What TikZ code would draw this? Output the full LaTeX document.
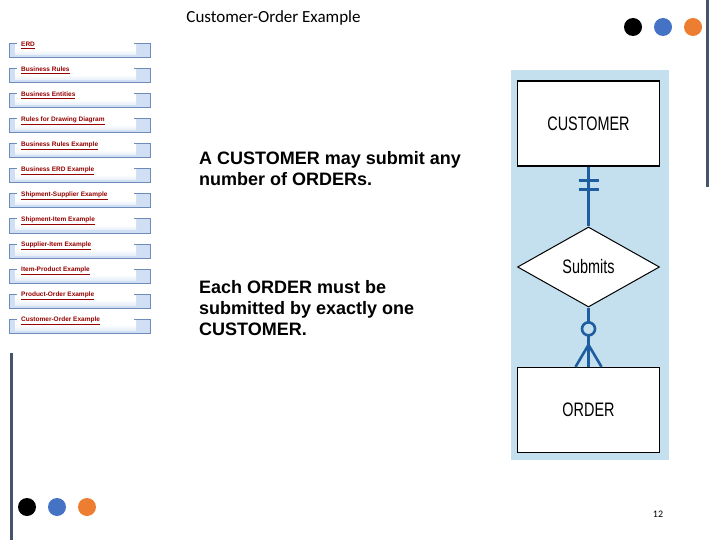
\documentclass[tikz,border=0pt]{standalone}
\usepackage{fontspec}
\setmainfont{Liberation Sans}
\newfontfamily\calibri{Carlito}
\newfontfamily\narrowfont{Liberation Sans}[FakeStretch=0.74]
\usetikzlibrary{shapes.geometric,calc}
\definecolor{panelblue}{RGB}{196,223,237}
\definecolor{navborder}{RGB}{110,140,185}
\definecolor{navfill}{RGB}{208,223,243}
\definecolor{navred}{RGB}{150,0,0}
\definecolor{relblue}{RGB}{30,94,160}
\definecolor{barcol}{RGB}{68,84,106}
\definecolor{dotblue}{RGB}{68,114,196}
\definecolor{dotorange}{RGB}{237,125,49}
\tikzset{
  navtext/.style={anchor=base west, inner sep=0pt, text=navred, font=\bfseries\fontsize{6.5}{8}\selectfont},
  bodytext/.style={anchor=north west, inner sep=0pt, align=left, font=\bfseries\fontsize{18}{21}\selectfont},
  entity/.style={draw=black, line width=1.3pt, fill=white, minimum width=142, minimum height=85, inner sep=0pt, font=\narrowfont\fontsize{19.5}{20}\selectfont},
  relation/.style={diamond, draw=black, line width=1pt, fill=white, minimum width=142, minimum height=80, inner sep=0pt, font=\narrowfont\fontsize{19.5}{20}\selectfont},
  relline/.style={draw=relblue, line width=2.6pt},
  dot/.style={circle, minimum size=18, inner sep=0pt}
}
\begin{document}
\begin{tikzpicture}[x=1pt,y=-1pt]
\useasboundingbox (0,0) rectangle (720,540);
% title
\node[font=\calibri\fontsize{17}{20}\selectfont] (title) at (273.5,18) {Customer-Order Example};
% dots
\node[dot, fill=black] (d1) at (633,27) {};
\node[dot, fill=dotblue] (d2) at (663,27) {};
\node[dot, fill=dotorange] (d3) at (693,27) {};
\node[dot, fill=black] (d4) at (27,507) {};
\node[dot, fill=dotblue] (d5) at (57,507) {};
\node[dot, fill=dotorange] (d6) at (87,507) {};
% bars
\fill[barcol] (705.5,0) rectangle (708.5,187);
\fill[barcol] (9.5,353) rectangle (12.5,540);
% nav buttons
\foreach \t [count=\i] in {ERD,Business Rules,Business Entities,Rules for Drawing Diagram,Business Rules Example,Business ERD Example,Shipment-Supplier Example,Shipment-Item Example,Supplier-Item Example,Item-Product Example,Product-Order Example,Customer-Order Example} {
  \pgfmathsetmacro\yt{44+25*(\i-1)}
  \fill[navfill] (9,\yt) rectangle (150,\yt+14);
  \shade[top color=white, bottom color=navfill!50, middle color=white] (15,\yt) rectangle (136,\yt+11);
  \draw[navborder, line width=1pt] (17,\yt) -- (9,\yt) -- (9,\yt+14) -- (150,\yt+14) -- (150,\yt) -- (134,\yt);
  \node[navtext] (nav\i) at (21,\yt+2.5) {\underline{\t}};
}
% body text
\node[bodytext] (t1) at (199,151) {A CUSTOMER may submit any\\number of ORDERs.};
\node[bodytext] (t2) at (199,280) {Each ORDER must be\\submitted by exactly one\\CUSTOMER.};
% ER panel
\fill[panelblue] (511,70) rectangle (669,460);
\node[entity] (cust) at (588.5,123.5) {CUSTOMER};
\node[relation] (rel) at (588.5,267) {Submits};
\node[entity] (ord) at (588.5,410) {ORDER};
\draw[relline] (cust.south) -- (rel.north);
\draw[relline] ($(cust.south)+(-10,14)$) -- ++(20,0);
\draw[relline] ($(cust.south)+(-10,23)$) -- ++(20,0);
\draw[relline] (rel.south) -- (ord.north);
\coordinate (foot) at ($(ord.north)+(0,-22)$);
\draw[relline] (foot) -- ($(ord.north)+(-13,0)$);
\draw[relline] (foot) -- ($(ord.north)+(13,0)$);
\draw[relline, fill=panelblue] ($(ord.north)+(0,-38)$) circle (6.5);
% page number
\node[font=\calibri\fontsize{10}{12}\selectfont] (pg) at (658,514) {12};
\end{tikzpicture}
\end{document}
